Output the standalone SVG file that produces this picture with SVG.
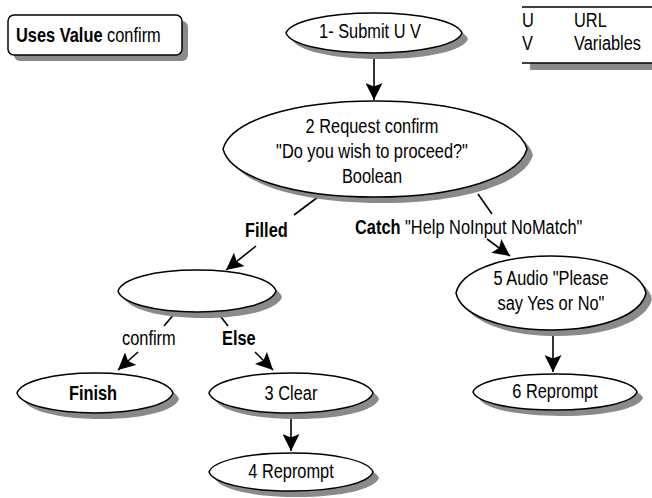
<svg xmlns="http://www.w3.org/2000/svg" xmlns:xlink="http://www.w3.org/1999/xlink" width="652" height="498" viewBox="0 0 652 498">
<style>
text{font-family:"Liberation Sans",Arial,sans-serif;font-size:21px;fill:#000}
.b{font-weight:bold}
.m{text-anchor:middle}
.sh{fill:#8a8a8a;stroke:none}
.nd{fill:#fff;stroke:#000;stroke-width:1.5}
.ln{stroke:#000;stroke-width:1.6;fill:none}
</style>
<defs>
<path id="ov" vector-effect="non-scaling-stroke" d="M-1,0 C-0.95,-0.58 -0.55,-1 0,-1 C0.55,-1 0.95,-0.58 1,0 C0.95,0.58 0.55,1 0,1 C-0.55,1 -0.95,0.58 -1,0Z"/>
<marker id="a" viewBox="0 0 10 10" refX="10" refY="5" markerWidth="17" markerHeight="17" markerUnits="userSpaceOnUse" orient="auto">
<path d="M0,0 L10,5 L0,10 L2,5 Z" fill="#000"/>
</marker>
</defs>
<g id="uses-value">
<rect class="sh" x="14" y="21" width="174" height="40" rx="6"/>
<rect class="nd" x="8" y="15" width="174" height="40" rx="6"/>
<text transform="translate(16,42) scale(0.78,1)"><tspan class="b">Uses Value</tspan> confirm</text>
</g>
<g id="legend">
<rect class="sh" x="530" y="63" width="122" height="7"/>
<line class="ln" x1="522" y1="7" x2="652" y2="7"/>
<line class="ln" x1="522" y1="63" x2="652" y2="63"/>
<text transform="translate(522,27) scale(0.78,1)">U</text>
<text transform="translate(574,27) scale(0.78,1)">URL</text>
<text transform="translate(522,50) scale(0.78,1)">V</text>
<text transform="translate(574,50) scale(0.78,1)">Variables</text>
</g>
<g id="connectors">
<line class="ln" x1="374" y1="53" x2="374" y2="100" marker-end="url(#a)"/>
<line class="ln" x1="318" y1="197" x2="294" y2="215"/>
<line class="ln" x1="256" y1="246" x2="226" y2="270" marker-end="url(#a)"/>
<line class="ln" x1="478" y1="194" x2="492" y2="214"/>
<line class="ln" x1="487" y1="239" x2="510" y2="256" marker-end="url(#a)"/>
<line class="ln" x1="175" y1="313" x2="164" y2="326"/>
<line class="ln" x1="138" y1="352" x2="118" y2="370" marker-end="url(#a)"/>
<line class="ln" x1="218" y1="313" x2="228" y2="326"/>
<line class="ln" x1="255" y1="352" x2="273" y2="370" marker-end="url(#a)"/>
<line class="ln" x1="291" y1="413" x2="291" y2="451" marker-end="url(#a)"/>
<line class="ln" x1="553" y1="330" x2="553" y2="372" marker-end="url(#a)"/>
<text class="b" transform="translate(245,237) scale(0.78,1)">Filled</text>
<text transform="translate(355,234) scale(0.78,1)"><tspan class="b">Catch</tspan> "Help NoInput NoMatch"</text>
<text transform="translate(122,345) scale(0.78,1)">confirm</text>
<text class="b" transform="translate(222,345) scale(0.78,1)">Else</text>
</g>
<g id="n1">
<use xlink:href="#ov" class="sh" transform="translate(380,39) scale(88,20)"/>
<use xlink:href="#ov" class="nd" transform="translate(374,33) scale(88,20)"/>
<text class="m" transform="translate(370,38) scale(0.78,1)">1- Submit U V</text>
</g>
<g id="n2">
<use xlink:href="#ov" class="sh" transform="translate(381,155) scale(152,48)"/>
<use xlink:href="#ov" class="nd" transform="translate(375,149) scale(152,48)"/>
<text class="m" transform="translate(372,133) scale(0.78,1)">2 Request confirm</text>
<text class="m" transform="translate(372,158) scale(0.78,1)">"Do you wish to proceed?"</text>
<text class="m" transform="translate(372,183) scale(0.78,1)">Boolean</text>
</g>
<g id="n-branch">
<use xlink:href="#ov" class="sh" transform="translate(203,297) scale(79,21)"/>
<use xlink:href="#ov" class="nd" transform="translate(197,291) scale(79,21)"/>
</g>
<g id="n5">
<use xlink:href="#ov" class="sh" transform="translate(557,299) scale(95,37)"/>
<use xlink:href="#ov" class="nd" transform="translate(551,293) scale(95,37)"/>
<text class="m" transform="translate(551,285) scale(0.78,1)">5 Audio "Please</text>
<text class="m" transform="translate(551,310) scale(0.78,1)">say Yes or No"</text>
</g>
<g id="n6">
<use xlink:href="#ov" class="sh" transform="translate(561,398) scale(82,18)"/>
<use xlink:href="#ov" class="nd" transform="translate(555,392) scale(82,18)"/>
<text class="m" transform="translate(555,398) scale(0.78,1)">6 Reprompt</text>
</g>
<g id="finish">
<use xlink:href="#ov" class="sh" transform="translate(101,399) scale(78,20)"/>
<use xlink:href="#ov" class="nd" transform="translate(95,393) scale(78,20)"/>
<text class="m b" transform="translate(93,400) scale(0.78,1)">Finish</text>
</g>
<g id="n3">
<use xlink:href="#ov" class="sh" transform="translate(297,399) scale(82,20)"/>
<use xlink:href="#ov" class="nd" transform="translate(291,393) scale(82,20)"/>
<text class="m" transform="translate(291,400) scale(0.78,1)">3 Clear</text>
</g>
<g id="n4">
<use xlink:href="#ov" class="sh" transform="translate(297,478) scale(82,19)"/>
<use xlink:href="#ov" class="nd" transform="translate(291,472) scale(82,19)"/>
<text class="m" transform="translate(291,478) scale(0.78,1)">4 Reprompt</text>
</g>
</svg>
